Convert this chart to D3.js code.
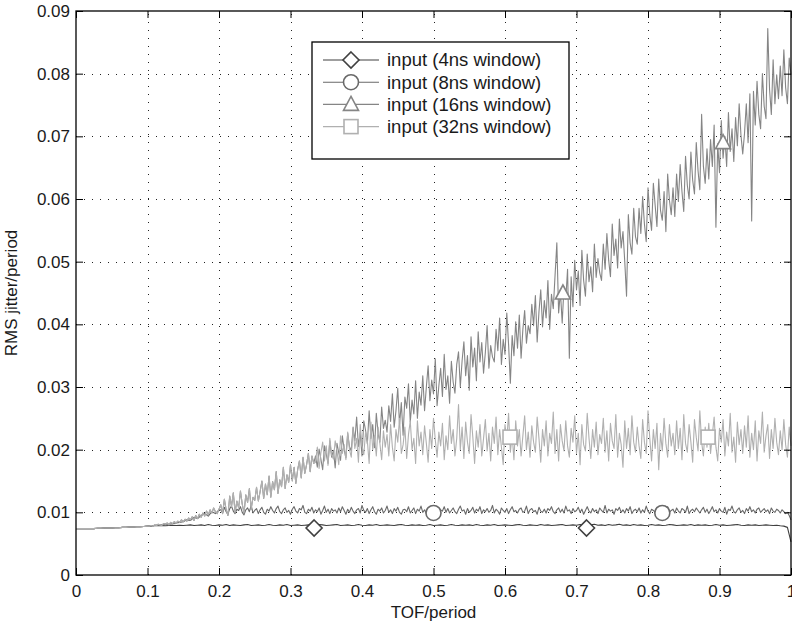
<!DOCTYPE html>
<html>
<head>
<meta charset="utf-8">
<title>RMS jitter vs TOF</title>
<script src="https://d3js.org/d3.v7.min.js"></script>
<style>
  body { margin: 0; background: #fff; }
  text { font-family: "Liberation Sans", Arial, Helvetica, sans-serif; }
</style>
</head>
<body>
<svg width="792" height="624"></svg>
<script>
// all jitter values are RMS jitter/period x 1e-4
// shared start of all four curves, TOF 0 .. 0.1 every 0.005
const base = [74,74,74,74,74,74,74.5,74.5,75,75,75,75.5,75.5,76,76,76.5,76.5,77,77,77.5,78];

// 4ns window, TOF 0.105 .. 1 every 0.005
const tail4 = [
  78,78.5,78.5,79,78.5,79,79.5,79,79.5,79,
  79.5,80,79,79.5,80,79,80.5,79.5,79,80,
  79.5,80.5,79,80,79.5,79,80,80.5,79,79.5,
  80,79,79.5,80.5,79.5,79,80,79.5,80.5,79,
  79.5,80,79,79.5,80,79.5,79,80.5,80,79,
  79.5,80,80.5,79,79.5,80,79,79.5,80.5,79.5,
  79,80,79.5,80.5,79,79.5,80,79.5,79,80,
  80.5,79.5,79,80,79.5,80,79,79.5,80.5,79,
  79.5,80,79,79.5,80.5,79.5,79,80,79.5,80,
  79,80.5,79.5,79,80,79.5,80.5,79,79.5,80,
  79.5,79,80,80.5,79.5,79,80,79.5,79,80.5,
  79.5,80,79,79.5,80,80.5,79,79.5,80,79.5,
  80.5,79.5,79,80,81,79.5,80,79,80.5,79.5,
  80,81,79.5,80,79,80.5,79.5,80,79,79.5,
  80.5,79.5,80,79,79.5,80.5,80,79,79.5,80,
  79.5,80.5,79,80,79.5,80,79,79.5,80.5,79.5,
  80,79,79.5,80,80.5,79.5,79,80,79.5,80,
  79,79.5,80,79.5,79,79.5,78.5,78,76,53
];

// 8ns window: TOF 0.105 .. 0.2 every 0.005, then 0.2025 .. 1 every 0.0025
const mid8 = [79,79,80,80,81,81,82,83,84,85,88,87,92,90,95,98,94,101,98,104];
const tail8 = [
  104,99,108,101,97,106,110,102,98,105,103,109,100,96,104,107,
  101,111,99,103,106,98,104,108,100,97,105,102,109,103,99,106,
  110,101,98,104,107,100,103,97,105,109,102,99,106,104,111,100,
  98,105,102,108,99,104,101,107,97,103,110,100,105,98,106,102,
  104,99,107,101,109,103,97,105,100,108,102,98,104,106,99,111,
  103,100,106,98,104,109,101,97,105,102,107,99,103,110,100,104,
  98,106,102,108,100,97,104,105,101,109,99,103,107,98,105,102,
  110,100,104,98,106,103,99,108,101,105,97,104,102,109,100,106,
  99,103,107,101,98,105,110,102,104,97,106,100,103,108,99,105,
  102,109,98,104,101,106,100,103,111,99,105,102,97,107,103,100,
  106,98,104,109,101,103,99,105,107,100,102,110,98,104,106,101,
  103,97,108,102,100,105,99,106,103,109,101,98,104,107,100,105,
  99,110,102,104,98,106,101,103,108,100,105,97,103,109,102,99,
  106,101,104,98,107,103,100,111,99,105,102,104,97,106,103,108,
  100,104,99,106,102,109,98,103,105,101,107,99,104,100,110,102,
  98,105,103,100,108,101,104,97,106,102,109,100,103,105,99,107,
  102,99,106,104,100,110,98,103,105,101,107,103,99,104,108,100,
  105,98,103,109,101,104,99,106,102,100,108,97,105,103,110,101,
  99,104,107,100,103,98,106,102,109,101,104,99,105,107,100,103,
  106,101,104,98,107,102,100,105,103,99,104,101,98,100,95,88
];

// 16ns and 32ns windows coincide: TOF 0.1025 .. 0.3325 every 0.0025
const ramp = [
  78,79,78,80,79,81,80,79,82,81,83,80,84,82,85,83,86,84,88,85,
  89,86,91,88,93,87,95,90,97,92,99,94,102,96,104,99,107,101,98,105,
  112,98,121,104,95,126,109,131,100,118,107,134,113,99,128,116,138,105,124,119,
  140,118,133,150,122,145,128,158,124,149,136,165,130,152,141,172,138,160,148,176,
  150,172,146,168,182,155,188,162,176,194,165,190,178
];

// TOF 0.335 .. 1 every 0.0025
const tail16 = [
  190,172,201,185,168,206,193,178,214,188,199,171,210,195,183,222,200,187,226,205,
  198,236,214,252,205,227,190,246,231,209,262,218,240,203,258,226,212,268,234,247,
  228,270,245,289,236,262,298,240,275,223,284,266,305,244,279,257,310,250,292,271,
  318,262,300,334,278,311,289,345,270,302,330,285,352,296,318,274,341,308,290,336,
  356,300,342,372,318,350,295,380,332,362,310,388,340,371,322,355,398,330,366,348,
  340,392,358,410,336,376,352,418,368,306,382,350,404,362,415,346,392,422,370,398,
  385,432,398,446,372,420,455,396,438,410,470,392,448,425,478,530,418,452,402,460,
  440,488,346,476,428,502,455,485,430,518,470,445,512,468,492,452,528,475,505,482,
  470,528,488,545,502,476,560,510,536,490,568,522,548,500,445,575,530,512,585,540,
  528,585,545,604,560,532,618,575,550,625,590,556,632,582,566,612,548,640,598,575,
  618,572,640,596,655,612,580,668,622,600,675,630,608,690,645,615,735,652,625,680,
  632,695,652,718,555,688,642,725,665,700,652,738,676,712,660,730,685,752,702,672,
  705,752,690,768,565,772,718,788,735,712,800,748,728,872,775,735,822,752,798,760,
  812,765,838,778,752,825,798
];

const tail32 = [
  180,204,170,195,212,182,206,175,218,192,185,214,198,176,222,194,208,184,228,200,
  188,234,202,218,180,240,206,192,228,214,178,244,200,222,190,236,210,184,230,204,
  224,190,240,204,182,232,212,250,194,208,236,186,224,246,200,218,178,246,206,228,
  192,238,210,180,232,202,250,216,188,228,206,242,184,222,200,254,210,232,190,218,
  272,200,236,186,244,212,194,256,220,178,230,204,240,190,218,248,198,226,182,236,
  210,252,192,232,204,176,240,214,258,196,224,184,246,206,232,190,222,254,200,228,
  188,238,212,196,252,218,180,232,206,246,190,226,210,260,194,232,182,240,214,198,
  246,206,188,234,212,254,194,226,176,240,208,198,258,218,186,232,204,244,192,224,
  210,250,196,230,182,242,214,202,256,188,226,208,172,246,202,234,192,254,212,196,
  236,206,186,248,212,194,262,218,182,232,202,242,168,226,198,250,210,188,240,206,
  226,192,246,202,234,184,256,210,196,240,212,180,248,220,198,262,212,190,236,204,
  242,194,224,252,204,182,234,212,248,190,228,206,258,196,220,180,244,208,232,194,
  238,204,254,188,226,200,246,182,230,210,260,196,222,240,186,232,202,250,212,192,
  230,200,248,208,188,236,206
];

// marker positions [TOF/period, RMS jitter/period]
const marks4 = [[0.333, 0.0075], [0.714, 0.0075]];
const marks8 = [[0.5, 0.0099], [0.82, 0.0099]];
const marks16 = [[0.681, 0.045], [0.905, 0.069]];
const marks32 = [[0.607, 0.022], [0.884, 0.022]];

const seriesNames = ["input (4ns window)", "input (8ns window)", "input (16ns window)", "input (32ns window)"];
const xTicks = [0, 0.1, 0.2, 0.3, 0.4, 0.5, 0.6, 0.7, 0.8, 0.9, 1];
const yTicks = [0, 0.01, 0.02, 0.03, 0.04, 0.05, 0.06, 0.07, 0.08, 0.09];

// turn an evenly sampled run into [tof, jitter] points
function seg(from, step, vals) {
  return vals.map((v, i) => [from + i * step, v / 1e4]);
}

const series = [
  {name: seriesNames[0], pts: seg(0, 0.005, base).concat(seg(0.105, 0.005, tail4)),
   marks: marks4, color: "#404040", shape: "diamond"},
  {name: seriesNames[1], pts: seg(0, 0.005, base).concat(seg(0.105, 0.005, mid8), seg(0.2025, 0.0025, tail8)),
   marks: marks8, color: "#696969", shape: "circle"},
  {name: seriesNames[2], pts: seg(0, 0.005, base).concat(seg(0.1025, 0.0025, ramp), seg(0.335, 0.0025, tail16)),
   marks: marks16, color: "#858585", shape: "triangle"},
  {name: seriesNames[3], pts: seg(0, 0.005, base).concat(seg(0.1025, 0.0025, ramp), seg(0.335, 0.0025, tail32)),
   marks: marks32, color: "#b0b0b0", shape: "square"}
];

const L = 76, R = 791, T = 11, B = 575;
const svg = d3.select("svg");
const x = d3.scaleLinear().domain([0, 1]).range([L, R]);
const y = d3.scaleLinear().domain([0, 0.09]).range([B, T]);

// dotted grid
const grid = svg.append("g").attr("stroke", "#222").attr("stroke-width", 1).attr("stroke-dasharray", "1,7");
grid.selectAll("line.gx").data(xTicks.slice(1, -1)).enter().append("line")
  .attr("x1", d => Math.round(x(d)) + 0.5).attr("x2", d => Math.round(x(d)) + 0.5)
  .attr("y1", B).attr("y2", T);
grid.selectAll("line.gy").data(yTicks.slice(1, -1)).enter().append("line")
  .attr("y1", d => Math.round(y(d)) + 0.5).attr("y2", d => Math.round(y(d)) + 0.5)
  .attr("x1", L).attr("x2", R);

// curves
const line = d3.line().x(d => x(d[0])).y(d => y(d[1]));

function marker(g, shape, cx, cy, color) {
  const m = g.append("g").attr("transform", "translate(" + cx + "," + cy + ")")
    .attr("fill", "#fff").attr("stroke", color).attr("stroke-width", 1.6);
  if (shape === "diamond") m.append("path").attr("d", "M0,-8L8,0L0,8L-8,0Z");
  else if (shape === "circle") m.append("circle").attr("r", 7.5);
  else if (shape === "triangle") m.append("path").attr("d", "M0,-8L7.5,6L-7.5,6Z");
  else m.append("rect").attr("x", -7).attr("y", -7).attr("width", 14).attr("height", 14);
}

const plot = svg.append("g");
series.forEach(s => {
  plot.append("path").datum(s.pts)
    .attr("d", line).attr("fill", "none")
    .attr("stroke", s.color).attr("stroke-width", 1.1).attr("stroke-linejoin", "round");
  s.marks.forEach(p => marker(plot, s.shape, x(p[0]), y(p[1]), s.color));
});

// axes with inward ticks on all four sides
function styleAxis(g) {
  g.select(".domain").remove();
  g.selectAll(".tick line").attr("stroke", "#000");
  g.selectAll(".tick text").attr("fill", "#1a1a1a").attr("font-size", 17)
    .attr("font-family", "'Liberation Sans', Arial, sans-serif");
}
svg.append("g").attr("transform", "translate(0," + B + ")")
  .call(d3.axisBottom(x).tickValues(xTicks).tickFormat(d3.format("")).tickSizeInner(-7).tickSizeOuter(0).tickPadding(10))
  .call(styleAxis);
svg.append("g").attr("transform", "translate(0," + T + ")")
  .call(d3.axisTop(x).tickValues(xTicks).tickFormat("").tickSizeInner(-7).tickSizeOuter(0))
  .call(styleAxis);
svg.append("g").attr("transform", "translate(" + L + ",0)")
  .call(d3.axisLeft(y).tickValues(yTicks).tickFormat(d3.format("")).tickSizeInner(-7).tickSizeOuter(0).tickPadding(6))
  .call(styleAxis);
svg.append("g").attr("transform", "translate(" + R + ",0)")
  .call(d3.axisRight(y).tickValues(yTicks).tickFormat("").tickSizeInner(-7).tickSizeOuter(0))
  .call(styleAxis);

svg.append("rect").attr("x", L).attr("y", T).attr("width", R - L).attr("height", B - T)
  .attr("fill", "none").attr("stroke", "#000").attr("stroke-width", 1.3);

// axis titles
svg.append("text").attr("x", (L + R) / 2).attr("y", 618).attr("text-anchor", "middle")
  .attr("font-size", 17).attr("fill", "#1a1a1a").text("TOF/period");
svg.append("text").attr("transform", "translate(17," + (T + B) / 2 + ") rotate(-90)")
  .attr("text-anchor", "middle").attr("font-size", 17).attr("fill", "#1a1a1a").text("RMS jitter/period");

// legend
const lg = svg.append("g");
lg.append("rect").attr("x", 312).attr("y", 42).attr("width", 257).attr("height", 117)
  .attr("fill", "#fff").attr("stroke", "#000").attr("stroke-width", 1.3);
series.forEach((s, i) => {
  const cy = 60 + i * 22.2;
  lg.append("line").attr("x1", 323).attr("x2", 379).attr("y1", cy).attr("y2", cy)
    .attr("stroke", s.color).attr("stroke-width", 1.1);
  marker(lg, s.shape, 351, cy, s.color);
  lg.append("text").attr("x", 387).attr("y", cy).attr("dy", "0.35em")
    .attr("font-size", 18.5).attr("fill", "#1a1a1a").text(s.name);
});
</script>
</body>
</html>
